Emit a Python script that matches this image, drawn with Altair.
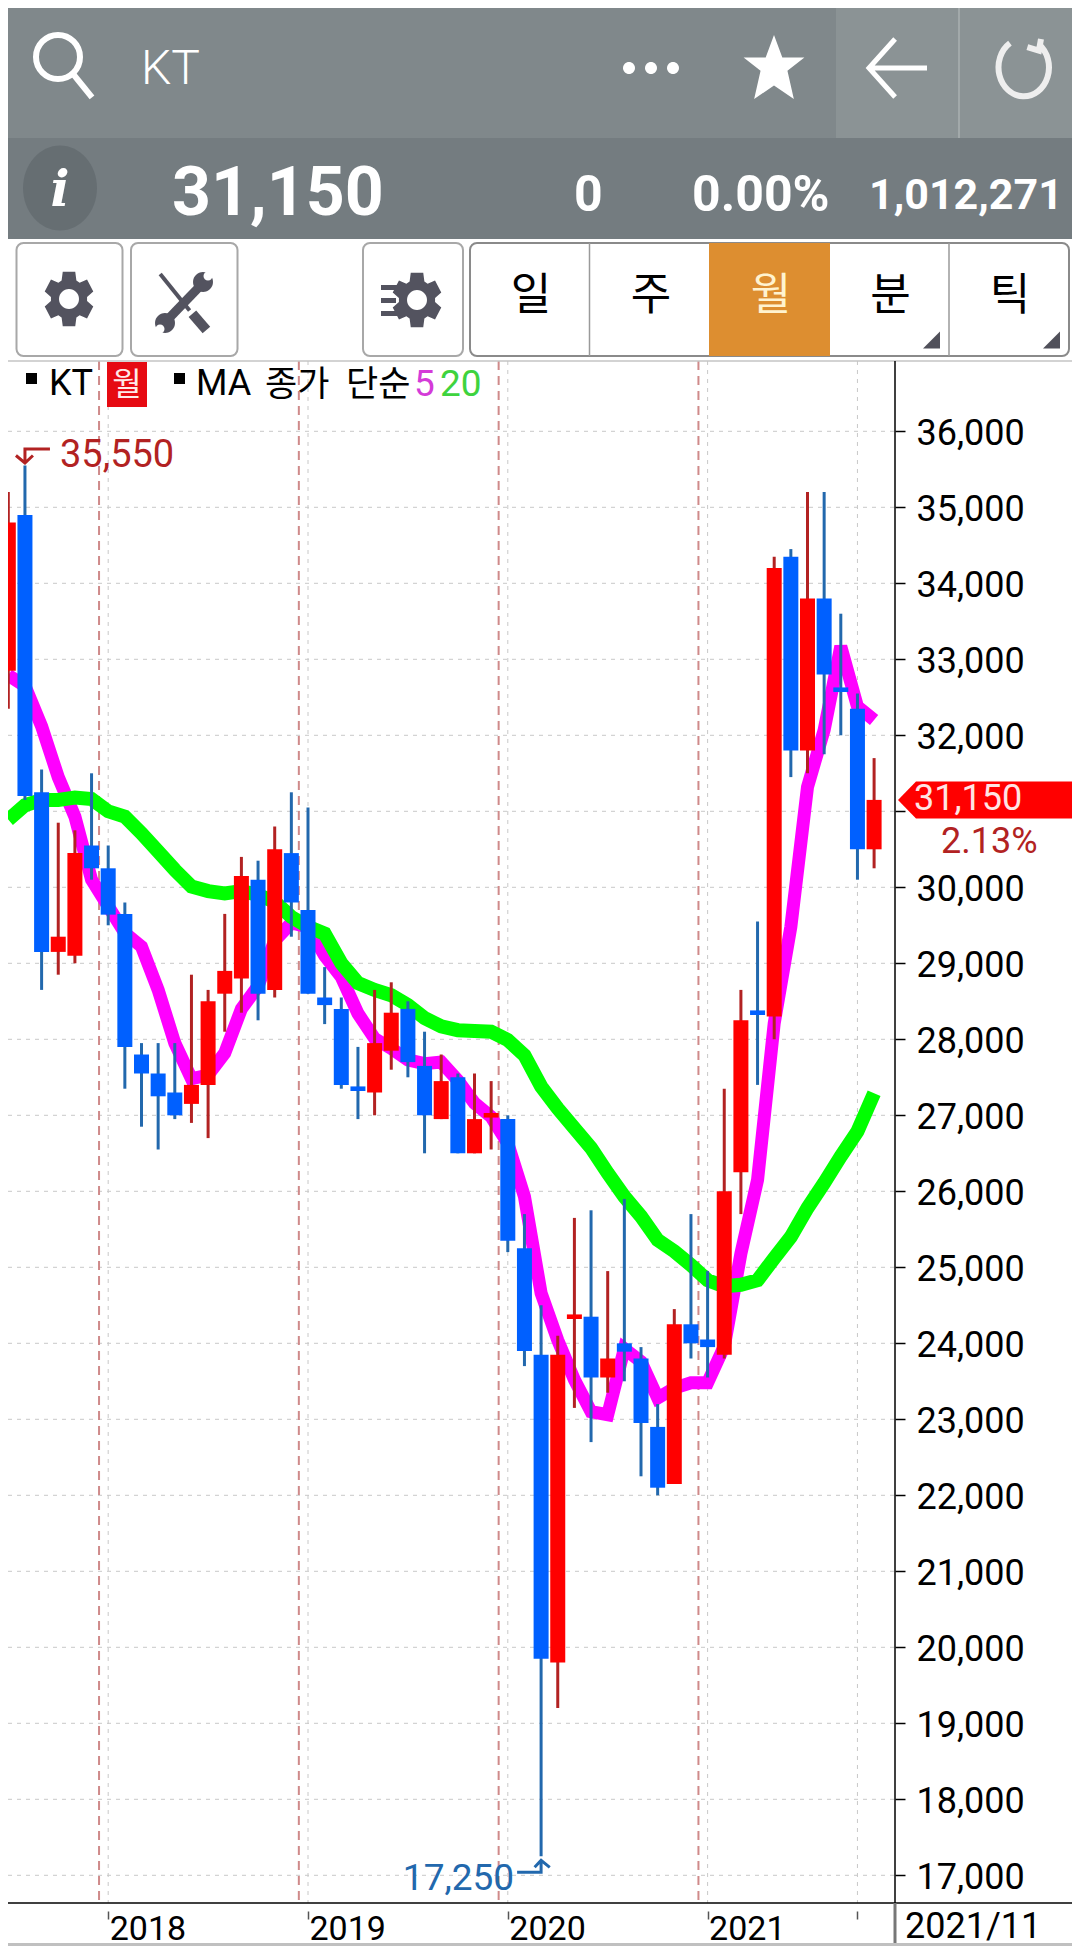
import math
import altair as alt
import pandas as pd

# ---- values ----
opens = [32850,34900,31250,29150,29100,30550,30250,29650,27800,27550,27300,27150,27400,28600,28800,30100,28650,30450,29700,28550,28400,27380,27300,27850,28400,27650,26950,27500,26500,26970,26950,25250,23850,19800,24320,24350,23550,24000,23800,22900,22150,24250,24050,23850,26250,28380,28300,34350,31800,33800,32630,32350,30500]
closes = [34800,31200,29150,29350,30450,30250,29640,27900,27550,27250,27000,27400,28500,28900,30150,28600,30500,29800,28600,28450,27400,27320,27950,28350,27700,27000,27450,26500,26950,27030,25350,23900,19850,23850,24380,23550,23800,23890,22950,22100,24250,24000,23950,26000,28250,28320,34200,31800,33800,32800,32570,30500,31150]
highs = [35200,35550,31550,30850,30750,31500,30550,29800,27950,27950,27950,28850,28650,29650,30400,30350,30800,31250,31050,28950,28550,27900,28650,28750,28500,28100,27800,27550,27550,27450,27000,25700,24500,24100,25650,25750,24950,25900,23950,23200,24450,25700,24950,27350,28650,29550,34350,34450,35200,35200,33600,32550,31700]
lows = [32350,31150,28650,28850,29000,30100,29500,27350,26850,26550,26950,26900,26700,28100,28350,28250,28550,29350,28600,28200,27350,26950,27000,27600,27500,26500,26950,26500,26500,26550,25200,23700,17250,19200,23150,22700,23350,23500,22250,22000,22150,23800,23550,23800,25700,27400,28000,31450,31500,31750,32000,30100,30250]
ma5 = [32790,32650,32120,31450,30930,30100,29750,29400,29220,28650,27950,27480,27530,27820,28400,28700,29300,29530,29480,29100,28820,28340,28010,27880,27730,27680,27700,27460,27160,26980,26630,25930,24660,24040,23520,23100,23060,23930,23760,23280,23410,23480,23480,23960,25180,26150,28210,29480,31320,32070,33170,32380,32200]
ma20 = [30890,31080,31150,31150,31180,31160,31000,30930,30710,30470,30230,30010,29950,29920,29950,29900,29810,29610,29480,29390,29000,28740,28650,28580,28450,28280,28170,28120,28110,28100,27990,27790,27380,27090,26830,26570,26240,25930,25670,25360,25210,25030,24830,24750,24770,24830,25120,25400,25780,26110,26460,26790,27290]
price_ticks = list(range(17000, 36001, 1000))
year_ticks = [6, 18, 30, 42, 51]
year_breaks = [5.45, 17.45, 29.45, 41.45]
last_price = 31150

# ---- frame ----
W, H = 1064, 1938
X = lambda v: v - 8
Y = lambda v: v - 8
x_scale = alt.Scale(domain=[0, 52], range=[X(8.3), X(874.1)], nice=False, zero=False, padding=0)
y_scale = alt.Scale(domain=[17000, 36000], range=[Y(1875.3), Y(431.3)], nice=False, zero=False)

df = pd.DataFrame({"i": range(len(opens)), "open": opens, "close": closes, "high": highs, "low": lows, "ma5": ma5, "ma20": ma20})
df["dir"] = ["up" if c >= o else "down" for o, c in zip(opens, closes)]
one = pd.DataFrame({"a": [0]})
KR = "Noto Sans CJK KR"
RB = "Roboto"


def rect(x1, y1, x2, y2, fill=None, stroke=None, sw=1, r=0):
    kw = {"cornerRadius": r, "strokeWidth": sw, "opacity": 1}
    kw["fill"] = fill if fill else "transparent"
    if stroke:
        kw["stroke"] = stroke
    return alt.Chart(one).mark_rect(**kw).encode(x=alt.value(X(x1)), x2=alt.value(X(x2)), y=alt.value(Y(y1)), y2=alt.value(Y(y2)))


def rule(x1, y1, x2, y2, color, sw=1, dash=None):
    kw = {"color": color, "strokeWidth": sw}
    if dash:
        kw["strokeDash"] = dash
    return alt.Chart(one).mark_rule(**kw).encode(x=alt.value(X(x1)), x2=alt.value(X(x2)), y=alt.value(Y(y1)), y2=alt.value(Y(y2)))


def text(s, x, y, size, color="#000000", font=RB, weight="normal", align="left", baseline="alphabetic", style="normal"):
    return alt.Chart(one).mark_text(font=font, fontSize=size, fontWeight=weight, fontStyle=style, color=color, align=align, baseline=baseline).encode(
        x=alt.value(X(x)), y=alt.value(Y(y)), text=alt.value(s))


def icon(path, x, y, span, fill=None, stroke=None, sw=1):
    kw = {"shape": path, "size": span * span, "opacity": 1, "filled": bool(fill)}
    if fill:
        kw["fill"] = fill
        kw["strokeWidth"] = 0
    if stroke:
        kw["stroke"] = stroke
        kw["strokeWidth"] = sw
    return alt.Chart(one).mark_point(**kw).encode(x=alt.value(X(x)), y=alt.value(Y(y)))


CIRCLE = "M-1,0A1,1 0 1,1 1,0A1,1 0 1,1 -1,0Z"
ELLIPSE = "M-.87,0A.87,1 0 1,1 .87,0A.87,1 0 1,1 -.87,0Z"
STAR = "M0,-1L.26,-.3L.95,-.3L.42,.12L.62,1L0,.58L-.62,1L-.42,.12L-.95,-.3L-.26,-.3Z"


def gear_path(teeth=6):
    pts = []
    for k in range(teeth):
        a = 2 * math.pi * k / teeth - math.pi / 2
        for da, rad in [(-.42, .72), (-.25, 1.0), (.25, 1.0), (.42, .72)]:
            pts.append((rad * .9 * math.cos(a + da), rad * math.sin(a + da)))
    return "M" + "L".join(f"{a:.3f},{b:.3f}" for a, b in pts) + "Z"


GEAR = gear_path()
chrome = [
    # app bars
    rect(0, 0, 1080, 138, fill="#80888b"),
    rect(0, 0, 1080, 2, fill="#6b7275"),
    rect(836, 2, 1080, 138, fill="#8b9395"),
    rule(959, 2, 959, 138, "#aab0b2", 1.5),
    rect(0, 138, 1080, 239, fill="#747c80"),
    # search, name, dots, star, back, reload
    icon(CIRCLE, 58, 57, 44, stroke="#ffffff", sw=6),
    icon("M-.77,-.96L.77,.96", 82, 85, 26, stroke="#ffffff", sw=6),
    text("KT", 141, 84, 48, color="#ffffff", weight=300),
    icon(CIRCLE, 629, 68, 12, fill="#ffffff"),
    icon(CIRCLE, 651, 68, 12, fill="#ffffff"),
    icon(CIRCLE, 673, 68, 12, fill="#ffffff"),
    icon(STAR, 774, 67, 64, fill="#ffffff"),
    icon("M1,0L-1,0M-.1,-1L-1,0L-.1,1", 898, 68, 58, stroke="#ffffff", sw=5),
    icon("M.55,-.82A.87,1 0 1,1 -.45,-.86M.62,-1L.55,-.6L.15,-.72", 1023, 68, 58, stroke="#eeeeee", sw=6),
    # price line
    icon(ELLIPSE, 60, 188, 85, fill="#666e72"),
    text("i", 60, 206, 50, color="#ffffff", font="DejaVu Serif", weight="bold", align="center", style="italic"),
    text("31,150", 172, 215, 68, color="#ffffff", weight="bold"),
    text("0", 574, 211, 50, color="#ffffff", weight="bold"),
    text("0.00%", 692, 211, 50, color="#ffffff", weight="bold"),
    text("1,012,271", 869, 209, 43, color="#ffffff", weight="bold"),
    # toolbar buttons
    rect(16.5, 243, 122.5, 356, fill="#ffffff", stroke="#a8a8a8", sw=2, r=7),
    rect(131, 243, 237.5, 356, fill="#ffffff", stroke="#a8a8a8", sw=2, r=7),
    rect(363, 243, 463, 356, fill="#ffffff", stroke="#a8a8a8", sw=2, r=7),
    rect(470, 243, 1069, 356, fill="#ffffff", stroke="#8a8a8a", sw=2, r=7),
    rect(709, 243, 830, 356, fill="#dd8e30"),
    rule(589.5, 243, 589.5, 356, "#9a9a9a", 1.5),
    rule(949, 243, 949, 356, "#9a9a9a", 1.5),
    icon(GEAR, 69, 299, 56, fill="#53535f"),
    icon(CIRCLE, 69, 299, 20, fill="#ffffff"),
    icon(GEAR, 417, 300, 56, fill="#53535f"),
    icon(CIRCLE, 417, 300, 20, fill="#ffffff"),
    rect(381, 285, 400, 290, fill="#53535f"),
    rect(381, 298, 396, 303, fill="#53535f"),
    rect(381, 311, 400, 316, fill="#53535f"),
    # wrench and screwdriver
    icon("M-.85,-1L.2,.3", 184, 302, 56, stroke="#53535f", sw=4),
    icon("M.3,.42L.8,1", 184, 302, 56, stroke="#53535f", sw=10),
    icon("M.7,-.7L-.7,.75", 184, 302, 56, stroke="#53535f", sw=9),
    icon(CIRCLE, 203, 282, 20, fill="#53535f"),
    icon(CIRCLE, 165, 323, 20, fill="#53535f"),
    icon(CIRCLE, 208, 276, 9, fill="#ffffff"),
    icon(CIRCLE, 160, 329, 9, fill="#ffffff"),
]
for s, cx, col in [("일", 531, "#000000"), ("주", 651, "#000000"), ("월", 771, "#fff3cf"), ("분", 890.5, "#000000"), ("틱", 1010, "#000000")]:
    chrome.append(text(s, cx, 297, 44, color=col, font=KR, align="center", baseline="middle"))
CORNER = "M1,-1L1,1L-1,1Z"
chrome += [icon(CORNER, 931.5, 340, 17, fill="#50505a"), icon(CORNER, 1051.5, 340, 17, fill="#50505a")]

# chart frame and legend text
frame = [
    rule(0, 361, 1080, 361, "#c4c4c4", 1.5),
    rule(895, 361, 895, 1903, "#000000", 1.5),
    rule(0, 1903, 1080, 1903, "#000000", 1.5),
    rule(895, 1903, 895, 1946, "#777777", 3),
]
legend = [
    rect(26, 373, 37, 384, fill="#000000"),
    text("KT", 49, 395, 36),
    rect(107, 362, 147, 407, fill="#e60a12"),
    text("월", 127, 385, 32, color="#ffe9e9", font=KR, align="center", baseline="middle"),
    rect(174, 373, 185, 384, fill="#000000"),
    text("MA", 196, 395, 36),
    text("종가", 265, 396, 35, font=KR),
    text("단순", 346, 396, 35, font=KR),
    text("5", 414, 396, 37, color="#d43bd8"),
    text("20", 440, 396, 37, color="#3ed33e"),
]

x_axis = alt.Axis(values=year_ticks, title=None, grid=False, domain=False, orient="bottom", offset=-35, tickSize=8, tickColor="#555555",
                  tickWidth=1.5, labelFont=RB, labelFontSize=34, labelColor="#000000", labelAlign="left", labelBaseline="alphabetic",
                  labelPadding=20, labelFlush=False, labelOverlap=False, labelBound=False, labelOffset=1,
                  labelExpr="+datum.value==6?'2018':+datum.value==18?'2019':+datum.value==30?'2020':+datum.value==42?'2021':''")
y_axis = alt.Axis(values=price_ticks, title=None, grid=False, domain=False, orient="right", offset=-177, tickSize=10, tickColor="#000000",
                  tickWidth=1.5, labelFont=RB, labelFontSize=36, labelColor="#000000", labelPadding=11, labelOverlap=False,
                  labelFlush=False, labelBound=False, labelOffset=2,
                  labelExpr="datum.value==31000?'':format(datum.value,',d')")
enc_x = lambda f: alt.X(f, scale=x_scale, axis=x_axis)
enc_y = lambda f: alt.Y(f, scale=y_scale, axis=y_axis)

# grid
grid_h = alt.Chart(pd.DataFrame({"p": price_ticks})).mark_rule(color="#c8c8c8", strokeWidth=1, strokeDash=[4, 5]).encode(
    y=enc_y("p:Q"), x=alt.value(0), x2=alt.value(X(895)))
grid_v = alt.Chart(pd.DataFrame({"t": year_ticks})).mark_rule(color="#c8c8c8", strokeWidth=1, strokeDash=[4, 5]).encode(
    x=enc_x("t:Q"), y=alt.value(Y(361)), y2=alt.value(Y(1903)))
breaks = alt.Chart(pd.DataFrame({"t": year_breaks})).mark_rule(color="#cf8a8a", strokeWidth=2, strokeDash=[9, 6]).encode(
    x=enc_x("t:Q"), y=alt.value(Y(361)), y2=alt.value(Y(1903)))

# series
base = alt.Chart(df)
line_ma5 = base.mark_line(color="#ff00ff", strokeWidth=13, strokeCap="butt", strokeJoin="miter").encode(x=enc_x("i:Q"), y=enc_y("ma5:Q"))
line_ma20 = base.mark_line(color="#00ff00", strokeWidth=14, strokeCap="butt", strokeJoin="miter").encode(x=enc_x("i:Q"), y=enc_y("ma20:Q"))
wick_scale = alt.Scale(domain=["up", "down"], range=["#b22222", "#2268ad"])
body_scale = alt.Scale(domain=["up", "down"], range=["#ff0000", "#0060ff"])
wicks = base.mark_rule(strokeWidth=3).encode(x=enc_x("i:Q"), y=enc_y("high:Q"), y2="low:Q", color=alt.Color("dir:N", scale=wick_scale, legend=None))
bodies = base.mark_bar(size=15, orient="vertical").encode(x=enc_x("i:Q"), y=enc_y("open:Q"), y2="close:Q", color=alt.Color("dir:N", scale=body_scale, legend=None))

# extremes and last price
i_hi = highs.index(max(highs))
i_lo = lows.index(min(lows))
hi = pd.DataFrame({"i": [i_hi], "v": [max(highs)], "s": [f"{max(highs):,}"]})
lo = pd.DataFrame({"i": [i_lo], "v": [min(lows)], "s": [f"{min(lows):,}"]})
last = pd.DataFrame({"v": [last_price], "s": [f"{last_price:,}"], "c": ["2.13%"]})
RED_T, BLUE_T = "#b22222", "#2268ad"
notes = [
    alt.Chart(hi).mark_text(font=RB, fontSize=38, color=RED_T, align="left", baseline="alphabetic", dx=35, dy=1).encode(x=enc_x("i:Q"), y=enc_y("v:Q"), text="s:N"),
    alt.Chart(hi).mark_point(shape="M1,-.38L-.47,-.38L-.47,.44M-1,0L-.47,.44L0,0", size=34 * 34, filled=False, opacity=1, stroke=RED_T, strokeWidth=3, xOffset=8, yOffset=-10).encode(x=enc_x("i:Q"), y=enc_y("v:Q")),
    alt.Chart(lo).mark_text(font=RB, fontSize=37, color=BLUE_T, align="right", baseline="alphabetic", dx=-27, dy=34).encode(x=enc_x("i:Q"), y=enc_y("v:Q"), text="s:N"),
    alt.Chart(lo).mark_point(shape="M-.94,.35L.47,.35L.47,-.35M.09,.06L.47,-.35L.98,.06", size=34 * 34, filled=False, opacity=1, stroke=BLUE_T, strokeWidth=3, xOffset=-8, yOffset=10).encode(x=enc_x("i:Q"), y=enc_y("v:Q")),
    alt.Chart(last).mark_point(shape="M-1,0L-.8,-.2055L1,-.2055L1,.2055L-.8,.2055Z", size=180 * 180, filled=True, fill="#ff0000", strokeWidth=0, opacity=1).encode(x=alt.value(X(988)), y=enc_y("v:Q")),
    alt.Chart(last).mark_text(font=RB, fontSize=36, color="#ffe4e4", align="left", baseline="alphabetic", dy=10).encode(x=alt.value(X(914)), y=enc_y("v:Q"), text="s:N"),
    alt.Chart(last).mark_text(font=RB, fontSize=36, color=RED_T, align="left", baseline="alphabetic", dy=53).encode(x=alt.value(X(941)), y=enc_y("v:Q"), text="c:N"),
]
bottom = [
    text("2021/11", 905, 1938, 36),
    rect(0, 1943, 1080, 1946, fill="#c0c0c0"),
]

layers = chrome + [grid_h, grid_v, breaks] + frame + [line_ma5, line_ma20, wicks, bodies] + legend + notes + bottom
chart = alt.layer(*layers).resolve_scale(color="independent").properties(
    width=W, height=H, padding=0, autosize=alt.AutoSizeParams(type="none"), background="#ffffff"
).configure_view(stroke=None)
chart.save("out.html", embed_options={"renderer": "svg", "actions": False})
